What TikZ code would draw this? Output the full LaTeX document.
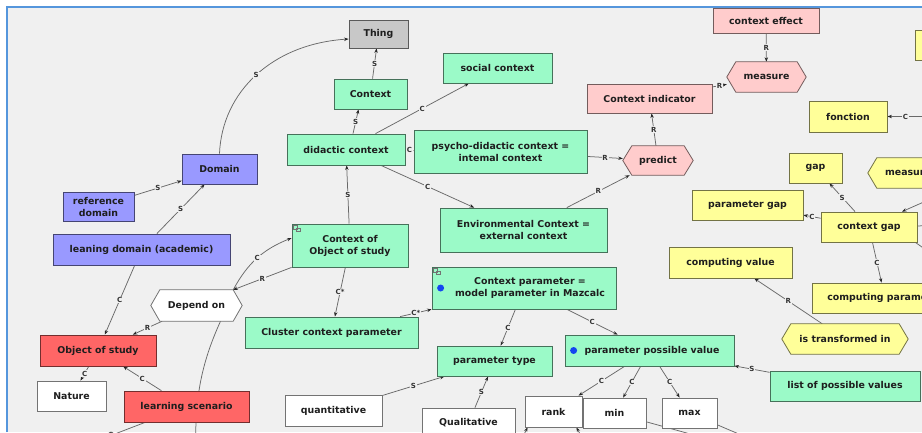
\documentclass[tikz,border=0pt]{standalone}
\usepackage{fontspec}
\setmainfont{DejaVu Sans}
\usetikzlibrary{arrows.meta}
\pgfdeclarelayer{bg}\pgfdeclarelayer{edges}\pgfdeclarelayer{shapes}
\pgfsetlayers{bg,edges,shapes,main}
\definecolor{bgc}{RGB}{240,240,240}
\definecolor{bluel}{RGB}{85,150,220}
\definecolor{cgreen}{RGB}{155,250,200}
\definecolor{cpink}{RGB}{255,204,204}
\definecolor{cyellow}{RGB}{255,255,153}
\definecolor{cblue}{RGB}{153,153,255}
\definecolor{cred}{RGB}{255,102,102}
\definecolor{cgray}{RGB}{200,200,200}
\definecolor{cwhite}{RGB}{255,255,255}
\definecolor{edgec}{RGB}{105,105,105}
\definecolor{dotc}{RGB}{20,70,240}
\definecolor{txt}{RGB}{30,30,30}
\tikzset{
 nbase/.style={inner sep=1pt, text=txt, font=\fontsize{9.4}{12}\selectfont\bfseries, align=center},
 nbox/.style={nbase, draw=#1!45!black, fill=#1, line width=0.8pt},
 hexn/.style={nbase},
 conn/.style={draw=edgec, line width=0.75pt, -{Stealth[length=4.5pt,width=3.4pt,color=black!85]}},
 plainconn/.style={draw=edgec, line width=0.75pt},
 lbl/.style={fill=bgc, inner sep=0.8pt, text=black!80, font=\fontsize{7}{8}\selectfont\bfseries},
}
\newcommand\hexdraw[2]{\begin{pgfonlayer}{shapes}\path[draw=#2!45!black, fill=#2, line width=0.8pt] (#1.west) -- ([xshift=9pt]#1.north west) -- ([xshift=-9pt]#1.north east) -- (#1.east) -- ([xshift=-9pt]#1.south east) -- ([xshift=9pt]#1.south west) -- cycle;\end{pgfonlayer}}
\newcommand\iconmark[1]{\draw[black!55, line width=0.4pt] ([shift={(2pt,-2pt)}]#1.north west) rectangle ++(4pt,-4pt) ([shift={(4.5pt,-4.5pt)}]#1.north west) rectangle ++(4pt,-3pt);}
\begin{document}
\begin{tikzpicture}[x=1pt,y=-1pt]
\useasboundingbox (0,0) rectangle (922,432);
\begin{pgfonlayer}{bg}
\fill[white] (0,0) rectangle (922,432);
\fill[bgc] (6,6) rectangle (922,432);
\draw[bluel, line width=2pt] (6.5,432) -- (6.5,6.5) -- (922,6.5);
\end{pgfonlayer}

% nodes
\node[nbox=cgray, minimum width=59pt, minimum height=28pt] (thing) at (378.5,34) {Thing};
\node[nbox=cgreen, minimum width=73pt, minimum height=30pt] (context) at (370.5,94) {Context};
\node[nbox=cgreen, minimum width=109pt, minimum height=30pt] (social) at (497.5,68) {social context};
\node[nbox=cgreen, minimum width=118pt, minimum height=31pt] (didactic) at (346,149.5) {didactic context};
\node[nbox=cgreen, minimum width=173pt, minimum height=43pt] (psycho) at (500.5,151.5) {psycho-didactic context =\\intemal context};
\node[nbox=cgreen, minimum width=167pt, minimum height=44pt] (envctx) at (523.5,230) {Environmental Context =\\external context};
\node[nbox=cpink, minimum width=125pt, minimum height=29pt] (ctxind) at (649.5,98.5) {Context indicator};
\node[nbox=cpink, minimum width=106pt, minimum height=25pt] (ctxeff) at (766,20.5) {context effect};
\node[nbox=cyellow, minimum width=78pt, minimum height=31pt] (fonction) at (848,116.5) {fonction};
\node[nbox=cyellow, minimum width=50pt, minimum height=30pt] (ytop) at (940,45) {};
\node[nbox=cyellow, minimum width=53pt, minimum height=30pt] (gap) at (815.5,168) {gap};
\node[nbox=cyellow, minimum width=111pt, minimum height=30pt] (pgap) at (747.5,205) {parameter gap};
\node[nbox=cyellow, minimum width=96pt, minimum height=30pt] (cgap) at (869,227) {context gap};
\node[nbox=cyellow, minimum width=146pt, minimum height=30pt] (cparam) at (885,298) {computing parameter};
\node[nbox=cyellow, minimum width=123pt, minimum height=31pt] (cvalue) at (730.5,262.5) {computing value};
\node[nbox=cgreen, minimum width=150pt, minimum height=30pt] (lpv) at (845,386) {list of possible values};
\node[nbox=cgreen, minimum width=169pt, minimum height=31pt] (ppv) at (649.5,350.5) {};
\node[nbase] (ppvtext) at (652,350.5) {parameter possible value};
\node[nbox=cgreen, minimum width=184pt, minimum height=42pt] (cparam2) at (524,288) {};
\node[nbase] (cparamtext) at (530,288) {Context parameter =\\model parameter in Mazcalc};
\node[nbox=cgreen, minimum width=116pt, minimum height=43pt] (coos) at (350,245.5) {Context of\\Object of study};
\node[nbox=cgreen, minimum width=173pt, minimum height=31pt] (cluster) at (331.5,332.5) {Cluster context parameter};
\node[nbox=cgreen, minimum width=115pt, minimum height=30pt] (ptype) at (494.5,361) {parameter type};
\node[nbox=cwhite, minimum width=97pt, minimum height=31pt] (quant) at (333.5,410.5) {quantitative};
\node[nbox=cwhite, minimum width=93pt, minimum height=30pt] (qual) at (468.5,423) {Qualitative};
\node[nbox=cwhite, minimum width=57pt, minimum height=31pt] (rank) at (553.5,411.5) {rank};
\node[nbox=cwhite, minimum width=63pt, minimum height=30pt] (nmin) at (614.5,413) {min};
\node[nbox=cwhite, minimum width=55pt, minimum height=30pt] (nmax) at (689.5,413) {max};
\node[nbox=cblue, minimum width=75pt, minimum height=30pt] (domain) at (219.5,169) {Domain};
\node[nbox=cblue, minimum width=71pt, minimum height=29pt] (refdom) at (98.5,206.5) {reference\\domain};
\node[nbox=cblue, minimum width=177pt, minimum height=31pt] (leandom) at (141.5,249.5) {leaning domain (academic)};
\node[nbox=cred, minimum width=116pt, minimum height=31pt] (oos) at (98,350.5) {Object of study};
\node[nbox=cwhite, minimum width=69pt, minimum height=30pt] (nature) at (71.5,396) {Nature};
\node[nbox=cred, minimum width=125pt, minimum height=31pt] (lscen) at (186.5,406.5) {learning scenario};
% hexagons
\node[hexn, minimum width=79pt, minimum height=30pt] (measure) at (766.5,77) {measure};
\node[hexn, minimum width=70pt, minimum height=29pt] (predict) at (658,160.5) {predict};
\node[hexn, minimum width=80pt, minimum height=30pt] (measureb) at (908,173) {measure};
\node[hexn, minimum width=126pt, minimum height=30pt] (istrans) at (845,339) {is transformed in};
\node[hexn, minimum width=91pt, minimum height=31pt] (dep) at (196.5,305.5) {Depend on};
\hexdraw{measure}{cpink}
\hexdraw{predict}{cpink}
\hexdraw{measureb}{cyellow}
\hexdraw{istrans}{cyellow}
\hexdraw{dep}{cwhite}
% marks
\fill[dotc] ([xshift=9pt]cparam2.west) circle (3.5pt);
\fill[dotc] ([xshift=9pt]ppv.west) circle (3.5pt);
\iconmark{coos}
\iconmark{cparam2}

% free ends
\coordinate (depdown) at (196,452);
\coordinate (lsdown) at (60,455);
\coordinate (fonsrc) at (960,116.5);
\coordinate (cgsrc) at (960,186);
\coordinate (cgout1) at (960,225);
\coordinate (cgout2) at (960,274);
\coordinate (minout) at (730,445);
\coordinate (maxout) at (760,443);
\coordinate (rk1) at (515,452);
\coordinate (rk2) at (590,452);

\begin{pgfonlayer}{edges}
\draw[conn] (domain.north) .. controls (222,92) and (272,44) .. ([yshift=-5pt]thing.west) node[lbl,pos=0.5]{S};
\draw[conn] (refdom) -- (domain) node[lbl,midway]{S};
\draw[conn] (leandom) -- (domain) node[lbl,midway]{S};
\draw[conn] (leandom) -- (oos) node[lbl,midway]{C};
\draw[conn] (dep) -- (oos) node[lbl,midway]{R};
\draw[conn] ([xshift=-9pt]dep.north east) to[bend left=20] node[lbl]{C} ([yshift=7.5pt]coos.west);
\draw[conn] (coos.south west) -- ([xshift=-9pt]dep.north east) node[lbl,midway]{R};
\draw[plainconn] ([xshift=24pt]dep.south) .. controls (203,360) and (194,395) .. (depdown);
\draw[conn] (lscen) -- (oos) node[lbl,midway]{C};
\draw[conn] (oos) -- (nature) node[lbl,midway]{C};
\draw[plainconn] (lscen) -- (lsdown) node[lbl,pos=0.4]{S};
\draw[conn] (context) -- (thing) node[lbl,midway]{S};
\draw[conn] ([xshift=7pt]didactic.north) -- ([xshift=-12pt]context.south) node[lbl,midway]{S};
\draw[conn] (didactic) -- (social) node[lbl,midway]{C};
\draw[conn] (didactic) -- (psycho) node[lbl,midway]{C};
\draw[conn] (didactic) -- (envctx) node[lbl,midway]{C};
\draw[conn] (coos) -- (didactic) node[lbl,midway]{S};
\draw[conn] (psycho) -- (predict) node[lbl,midway]{R};
\draw[conn] (envctx) -- (predict) node[lbl,midway]{R};
\draw[conn] (predict) -- (ctxind) node[lbl,midway]{R};
\draw[conn] (ctxind) -- (measure) node[lbl,midway]{R};
\draw[conn] (ctxeff) -- (measure) node[lbl,midway]{R};
\draw[conn] (fonsrc) -- (fonction) node[lbl,pos=0.75]{C};
\draw[conn] (cgap) -- (gap) node[lbl,midway]{S};
\draw[conn] (cgap) -- (pgap) node[lbl,midway]{C};
\draw[conn] (cgsrc) -- ([xshift=33pt]cgap.north);
\draw[plainconn] (cgap) -- (cgout1);
\draw[plainconn] ([xshift=-2pt]cgap.south east) -- (cgout2);
\draw[conn] (cgap) -- (cparam) node[lbl,midway]{C};
\draw[conn] (istrans) -- (cvalue) node[lbl,midway]{R};
\draw[conn] (coos) -- (cluster) node[lbl,midway]{C*};
\draw[conn] (cluster) -- (cparam2) node[lbl,midway]{C*};
\draw[conn] (cparam2) -- (ptype) node[lbl,midway]{C};
\draw[conn] (cparam2) -- (ppv) node[lbl,midway]{C};
\draw[conn] (quant) -- (ptype) node[lbl,midway]{S};
\draw[conn] (qual) -- (ptype) node[lbl,midway]{S};
\draw[conn] (ppv) -- (rank) node[lbl,midway]{C};
\draw[conn] (ppv) -- (nmin) node[lbl,midway]{C};
\draw[conn] (ppv) -- (nmax) node[lbl,midway]{C};
\draw[conn] (lpv) -- (ppv) node[lbl,midway]{S};
\draw[plainconn] (nmin) -- (minout);
\draw[plainconn] (nmax) -- (maxout);
\draw[conn] (rk1) -- ([xshift=3pt]rank.south west);
\draw[conn] (rk2) -- ([xshift=-6pt]rank.south east);
\end{pgfonlayer}
\end{tikzpicture}
\end{document}
